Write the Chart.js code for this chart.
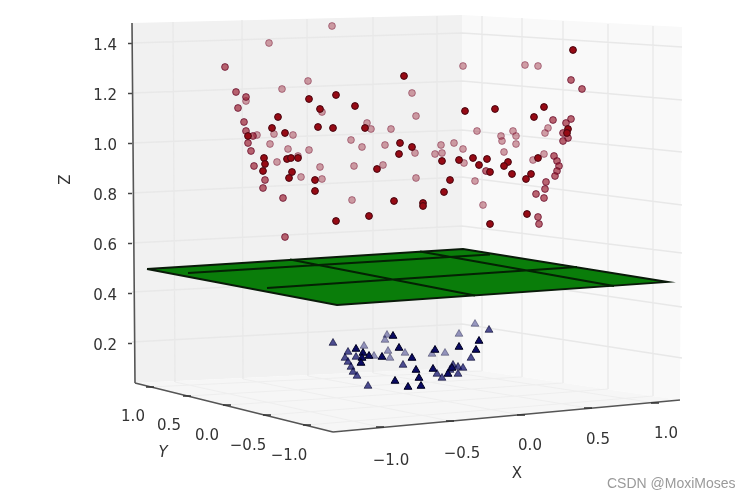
<!DOCTYPE html>
<html>
<head>
<meta charset="utf-8">
<style>
  html, body { margin: 0; padding: 0; background: #fff; }
  canvas { display: block; filter: blur(0.6px); }
</style>
<script src="https://cdn.jsdelivr.net/npm/chart.js@4/dist/chart.umd.min.js"></script>
</head>
<body>
<canvas id="myChart" width="752" height="499"></canvas>
<script>
// the picture is a 3d plot seen from one angle, so h is the horizontal position
// after projection and z is the real Z value read from the left axis

// red circles, front to back
const redNearH = [-2.11,-1.84,-2.00,-1.65,-1.16,-2.42,-2.48,-2.02,-1.87,-1.55,-2.35,-2.72,-1.20,-1.08,-1.21,-2.56,-2.33,-2.29,-2.22,-2.55,-2.57,-1.43,-2.28,-2.31,-2.05,-2.05,-1.26,-0.97,-0.97,-1.51,-1.84,
  0.53,-0.55,-0.25,0.24,0.14,0.48,0.47,-0.47,-0.61,-0.33,0.18,-0.78,-0.12,-0.41,-0.16,-0.30,-0.08,0.11,0.06,-0.70,-0.76,0.07,-0.30];
const redNearZ = [1.176,1.192,1.136,1.148,1.268,1.104,1.06,1.064,1.06,1.06,1.04,1.028,1.0,0.984,0.956,0.94,0.936,0.94,0.94,0.916,0.888,0.896,0.884,0.86,0.852,0.808,0.768,0.76,0.748,0.708,0.688,
  1.372,1.128,1.136,1.144,1.104,1.056,1.04,0.94,0.932,0.936,0.94,0.928,0.924,0.912,0.908,0.884,0.876,0.876,0.856,0.852,0.804,0.716,0.676];
const redMidH = [-2.95,-2.84,-2.74,-2.82,-2.76,-2.74,-2.67,-2.72,-2.69,-2.66,-2.55,-2.57,-2.37,-2.35,
  0.51,0.62,0.51,0.46,0.43,0.48,0.43,0.34,0.37,0.39,0.37,-0.34,0.35,0.26,0.25,0.16,0.24,0.18,0.19,0.33];
const redMidZ = [1.304,1.204,1.184,1.14,1.084,1.048,1.028,1.0,0.968,0.908,0.852,0.82,0.78,0.624,
  1.252,1.216,1.096,1.08,1.04,1.02,1.008,0.948,0.928,0.908,0.888,0.888,0.868,0.844,0.816,0.796,0.78,0.704,0.676,1.092];
const redFarH = [-1.88,-2.51,-2.38,-2.12,-2.74,-1.08,-1.04,-1.98,-1.53,-1.49,-1.29,-2.63,-2.46,-2.27,-2.50,-1.69,-1.58,-1.35,-1.05,-2.32,-2.11,-2.22,-2.43,-2.00,-1.66,-1.37,-2.19,-1.98,-1.04,-1.68,
  -0.57,0.05,0.18,-0.43,-0.07,0.28,0.25,-0.19,-0.04,-0.18,-0.66,-0.79,-0.04,-0.57,-0.85,-0.78,-0.16,0.24,0.13,-0.56,-0.45,-0.37];
const redFarZ = [1.468,1.4,1.216,1.248,1.168,1.2,1.108,1.124,1.08,1.056,1.056,1.032,1.036,1.032,0.996,1.012,0.984,0.992,0.96,0.976,0.972,0.948,0.924,0.904,0.908,0.912,0.864,0.856,0.86,0.772,
  1.308,1.312,1.308,1.048,1.048,1.06,1.04,1.028,1.028,1.008,1.0,0.992,0.996,0.976,0.956,0.96,0.964,0.956,0.932,0.92,0.848,0.752];

// blue triangles
const triNearH = [-1.27,-1.64,-1.57,-1.51,-1.38,-1.58,-1.59,-1.21,-1.08,-1.25,-1.12,-1.04,-1.01,-0.99,-0.85,-0.61,-0.41,-0.44,-0.87,-0.72,-0.68];
const triNearZ = [0.228,0.176,0.16,0.148,0.144,0.14,0.12,0.18,0.14,0.048,0.024,0.092,0.06,0.028,0.172,0.184,0.208,0.172,0.096,0.076,0.1];
const triMidH = [-1.87,-1.72,-1.64,-1.75,-1.72,-1.69,-1.67,-1.63,-1.52,-1.17,-0.31,-0.49,-0.83,-0.78,-0.67,-0.70,-0.62,-0.57,-0.62];
const triMidZ = [0.2,0.164,0.144,0.14,0.124,0.104,0.084,0.068,0.028,0.112,0.252,0.14,0.076,0.06,0.112,0.092,0.104,0.1,0.076];
const triFarH = [-1.56,-1.33,-1.35,-1.46,-1.32,-1.30,-1.15,-0.88,-0.75,-0.61,-0.45];
const triFarZ = [0.188,0.232,0.212,0.148,0.168,0.14,0.16,0.156,0.16,0.236,0.276];

// box and plane corners
const leftWallH = [-3.88,-0.58,-0.58,-3.85,-3.88];
const leftWallZ = [1.48,1.512,0.10,0.04,1.48];
const rightWallH = [-0.58,1.62,1.60,-0.58,-0.58];
const rightWallZ = [1.512,1.464,-0.028,0.10,1.512];
const floorH = [-3.85,-1.87,1.60,-0.58,-3.85];
const floorZ = [0.04,-0.156,-0.028,0.10,0.04];
const planeH = [-3.73,-0.57,1.48,-1.83,-3.73];
const planeZ = [0.496,0.576,0.444,0.352,0.496];

// plane mesh lines, each row is h1, z1, h2, z2
const planeLines = [
  [-3.32,0.48,-0.30,0.554],
  [-2.53,0.42,0.57,0.504],
  [-2.30,0.534,-0.45,0.39],
  [-1.00,0.566,0.94,0.428]
];

// grid on the walls and the floor, same row layout
const gridLines = [
  [-3.47,1.484,-3.45,0.044],[-2.78,1.492,-2.77,0.056],[-2.13,1.496,-2.12,0.068],[-1.47,1.504,-1.47,0.08],[-0.83,1.508,-0.83,0.092],
  [-0.38,1.508,-0.38,0.088],[0.02,1.5,0.02,0.064],[0.43,1.488,0.43,0.04],[0.88,1.476,0.88,0.016],[1.33,1.468,1.33,-0.012],
  [-3.88,1.4,-0.58,1.44],[-0.58,1.44,1.62,1.384],
  [-3.88,1.2,-0.58,1.248],[-0.58,1.248,1.62,1.172],
  [-3.88,1.0,-0.58,1.052],[-0.58,1.052,1.62,0.964],
  [-3.88,0.8,-0.58,0.864],[-0.58,0.864,1.62,0.752],
  [-3.88,0.6,-0.58,0.668],[-0.58,0.668,1.62,0.56],
  [-3.88,0.404,-0.58,0.472],[-0.58,0.472,1.62,0.344],
  [-3.88,0.204,-0.58,0.276],[-0.58,0.276,1.62,0.14]
];
const floorLines = [
  [-1.40,-0.136,-3.45,0.044],[-0.70,-0.112,-2.77,0.056],[0.01,-0.088,-2.12,0.068],[0.68,-0.06,-1.47,0.08],[1.35,-0.04,-0.83,0.092],
  [-3.70,0.024,-0.38,0.088],[-3.33,-0.012,0.02,0.064],[-2.93,-0.048,0.43,0.04],[-2.53,-0.088,0.88,0.016],[-2.13,-0.128,1.33,-0.012]
];

// axes
const axisLines = [
  [-3.88,1.48,-3.85,0.04],
  [-3.85,0.04,-1.87,-0.156],
  [-1.87,-0.156,1.60,-0.028]
];
const zTicks = [0.2,0.4,0.6,0.8,1.0,1.2,1.4];
const xTickLabels = ['\u22121.0','\u22120.5','0.0','0.5','1.0'];
const xMarkH = [-1.40,-0.70,0.01,0.68,1.35];
const xMarkZ = [-0.136,-0.112,-0.088,-0.06,-0.04];
const xLabelH = [-1.29,-0.58,0.10,0.78,1.46];
const xLabelZ = [-0.268,-0.24,-0.208,-0.184,-0.16];
const yTickLabels = ['1.0','0.5','0.0','\u22120.5','\u22121.0'];
const yMarkH = [-3.70,-3.33,-2.93,-2.53,-2.13];
const yMarkZ = [0.024,-0.012,-0.048,-0.088,-0.128];
const yLabelH = [-3.87,-3.51,-3.13,-2.72,-2.31];
const yLabelZ = [-0.092,-0.128,-0.168,-0.208,-0.248];

function pts(hs, zs) {
  return hs.map((h, i) => ({x: h, y: zs[i]}));
}

function segs(rows) {
  const out = [];
  rows.forEach(r => {
    out.push({x: r[0], y: r[1]}, {x: r[2], y: r[3]}, {x: null, y: null});
  });
  return out;
}

function marks(hs, zs) {
  return segs(hs.map((h, i) => [h - 0.04, zs[i], h + 0.04, zs[i]]));
}

function poly(hs, zs, color, border, width) {
  return {
    data: pts(hs, zs), showLine: true, fill: 'shape', backgroundColor: color,
    borderColor: border, borderWidth: width, pointRadius: 0, tension: 0, clip: false
  };
}

function lines(data, color, width) {
  return {
    data: data, showLine: true, fill: false, borderColor: color,
    borderWidth: width, pointRadius: 0, tension: 0, spanGaps: false, clip: false
  };
}

function scatter(hs, zs, style, radius, fillColor, edgeColor) {
  return {
    data: pts(hs, zs), showLine: false, pointStyle: style, pointRadius: radius,
    backgroundColor: fillColor, borderColor: edgeColor, pointBorderWidth: 1, clip: false
  };
}

// back to front
const layers = [
  poly(leftWallH, leftWallZ, '#f1f1f1', 'rgba(0,0,0,0)', 0),
  poly(rightWallH, rightWallZ, '#f9f9f9', 'rgba(0,0,0,0)', 0),
  poly(floorH, floorZ, '#f6f6f6', 'rgba(0,0,0,0)', 0),
  lines(segs(gridLines), '#e8e8e8', 1.3),
  lines(segs(floorLines), '#eeeeee', 1.1),
  lines(segs(axisLines), '#555555', 1.6),
  lines(marks(xMarkH, xMarkZ), '#333333', 1.5),
  lines(marks(yMarkH, yMarkZ), '#333333', 1.5),
  scatter(triFarH, triFarZ, 'triangle', 4.5, 'rgba(30,30,120,0.45)', 'rgba(0,0,40,0.35)'),
  scatter(triMidH, triMidZ, 'triangle', 4.5, 'rgba(20,20,110,0.75)', 'rgba(0,0,40,0.6)'),
  scatter(triNearH, triNearZ, 'triangle', 4.5, 'rgba(10,10,100,1)', 'rgba(0,0,30,1)'),
  poly(planeH, planeZ, '#0a7d0a', '#0a1a0a', 1.8),
  lines(segs(planeLines), '#042204', 2),
  scatter(redFarH, redFarZ, 'circle', 3.4, 'rgba(150,30,50,0.42)', 'rgba(130,40,70,0.55)'),
  scatter(redMidH, redMidZ, 'circle', 3.4, 'rgba(150,20,40,0.65)', 'rgba(100,10,40,0.75)'),
  scatter(redNearH, redNearZ, 'circle', 3.4, 'rgba(150,10,20,1)', 'rgba(70,5,15,1)')
];
layers.forEach((d, i) => { d.order = layers.length - i; });

// text placed on the slanted axes, positions go through the scales too
const axisText = {
  id: 'axisText',
  afterDraw(chart) {
    const {ctx, scales} = chart;
    const put = (text, h, z, font, rot) => {
      ctx.save();
      ctx.translate(scales.x.getPixelForValue(h), scales.y.getPixelForValue(z) + 1.5);
      if (rot) ctx.rotate(rot);
      ctx.font = font;
      ctx.fillStyle = '#333333';
      ctx.textAlign = 'center';
      ctx.textBaseline = 'middle';
      ctx.fillText(text, 0, 0);
      ctx.restore();
    };
    const tickFont = '15px "DejaVu Sans"';
    xTickLabels.forEach((t, i) => put(t, xLabelH[i], xLabelZ[i], tickFont));
    yTickLabels.forEach((t, i) => put(t, yLabelH[i], yLabelZ[i], tickFont));
    put('X', -0.03, -0.32, tickFont);
    put('Y', -3.57, -0.236, 'italic 15px "DejaVu Sans"');
    put('Z', -4.54, 0.86, tickFont, -Math.PI / 2);
    ctx.save();
    ctx.font = '14px "Liberation Sans"';
    ctx.fillStyle = '#9a9a9a';
    ctx.textBaseline = 'middle';
    ctx.fillText('CSDN @MoxiMoses', 607, 484);
    ctx.restore();
  }
};

new Chart(document.getElementById('myChart'), {
  type: 'scatter',
  data: {datasets: layers},
  plugins: [axisText],
  options: {
    responsive: false,
    animation: false,
    events: [],
    layout: {padding: 0, autoPadding: false},
    plugins: {legend: {display: false}, tooltip: {enabled: false}},
    scales: {
      x: {type: 'linear', display: false, min: -3.88, max: 2.32},
      y: {
        type: 'linear',
        min: -0.424,
        max: 1.572,
        border: {display: false},
        grid: {drawOnChartArea: false, tickLength: 4, tickColor: '#444444', tickWidth: 1.5},
        afterBuildTicks(scale) { scale.ticks = zTicks.map(v => ({value: v})); },
        afterFit(scale) {
          scale.width = 132;
          scale.paddingTop = 0;
          scale.paddingBottom = 0;
          scale.paddingLeft = 0;
          scale.paddingRight = 0;
        },
        ticks: {
          autoSkip: false,
          padding: 11,
          labelOffset: 3,
          color: '#333333',
          font: {family: 'DejaVu Sans', size: 15},
          callback: v => v.toFixed(1)
        }
      }
    }
  }
});
</script>
</body>
</html>
